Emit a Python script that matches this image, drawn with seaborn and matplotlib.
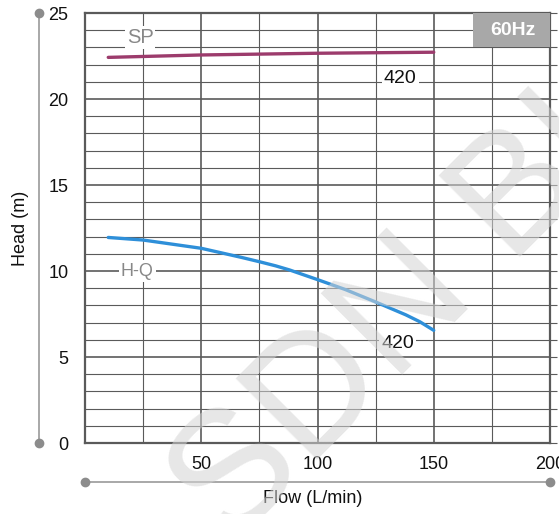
import matplotlib
matplotlib.use('Agg')
import matplotlib.pyplot as plt
from matplotlib.ticker import MultipleLocator, FuncFormatter
import seaborn as sns
import pandas as pd

# data
sp_flow = [10, 50, 100, 150]
sp_head = [22.42, 22.56, 22.66, 22.72]
hq_flow = [10, 25, 50, 67, 75, 82, 88, 100, 112, 125, 138, 144, 150]
hq_head = [11.95, 11.8, 11.32, 10.8, 10.54, 10.3, 10.06, 9.5, 8.92, 8.2, 7.45, 7.05, 6.55]
x_ticks = [0, 50, 100, 150, 200]
y_ticks = [0, 5, 10, 15, 20, 25]

sns.set_style('white')
plt.rcParams['font.family'] = ['Liberation Sans', 'DejaVu Sans']

grid_col = '#5a5a5a'
fig = plt.figure(figsize=(5.59, 5.14), dpi=100)
ax = fig.add_axes([85 / 559, 1 - 443 / 514, 465 / 559, 430 / 514])

df_sp = pd.DataFrame({'flow': sp_flow, 'head': sp_head})
df_hq = pd.DataFrame({'flow': hq_flow, 'head': hq_head})
sns.lineplot(data=df_sp, x='flow', y='head', ax=ax, color='#9c3b6c', lw=2.4, zorder=4)
sns.lineplot(data=df_hq, x='flow', y='head', ax=ax, color='#2e8fd9', lw=2.4, zorder=4)

ax.set_xlim(0, 200)
ax.set_ylim(0, 25)
ax.set_xticks(x_ticks)
ax.set_yticks(y_ticks)
ax.xaxis.set_minor_locator(MultipleLocator(25))
ax.yaxis.set_minor_locator(MultipleLocator(1))
ax.xaxis.set_major_formatter(FuncFormatter(lambda v, p: '' if v == 0 else f'{v:.0f}'))

ax.grid(True, which='major', color=grid_col, lw=1.2)
ax.grid(True, which='minor', color=grid_col, lw=0.8)
ax.set_axisbelow(True)
for s in ax.spines.values():
    s.set_color(grid_col)
    s.set_linewidth(1.6)

ax.tick_params(axis='both', which='both', direction='out', color=grid_col,
               labelsize=13, labelcolor='#111111')
ax.tick_params(axis='y', which='both', length=5, width=0.8, right=True, labelright=False, pad=7)
ax.tick_params(axis='x', which='both', length=3.6, width=0.8, pad=6)

ax.set_xlabel('Flow (L/min)', fontsize=13, color='#111111')
ax.set_ylabel('Head (m)', fontsize=13, color='#111111')
ax.xaxis.set_label_coords(0.49, -0.11)
ax.yaxis.set_label_coords(-0.12, 0.5)

# decorative axis guides with end dots
ax.plot([-0.099, -0.099], [0, 1], transform=ax.transAxes, clip_on=False,
        color='#a8a8a8', lw=1.4, marker='o', ms=6, mfc='#8c8c8c', mec='#8c8c8c')
ax.plot([0.0, 1.0], [-0.091, -0.091], transform=ax.transAxes, clip_on=False,
        color='#a8a8a8', lw=1.4, marker='o', ms=6, mfc='#8c8c8c', mec='#8c8c8c')

# curve labels
box = dict(facecolor='white', edgecolor='none', pad=1.5)
ax.text(23.7, 23.6, 'SP', fontsize=14.5, color='#888888', ha='center', va='center', bbox=box, zorder=5)
ax.text(22.5, 10.0, 'H-Q', fontsize=13, color='#888888', ha='center', va='center', bbox=box, zorder=5)
ax.text(135.5, 21.2, '420', fontsize=14, color='#111111', ha='center', va='center', bbox=box, zorder=5)
ax.text(134.6, 5.8, '420', fontsize=14, color='#111111', ha='center', va='center', bbox=box, zorder=5)

# frequency badge
ax.axvspan(167, 200, ymin=23 / 25, ymax=1, facecolor='#a8a8a8', edgecolor='none', zorder=5)
ax.text(184, 24.0, '60Hz', fontsize=14, fontweight='bold', color='white',
        ha='center', va='center', zorder=6)

# watermark
fig.text(230 / 559, 1 - 548 / 514, 'SDN BHD', fontsize=120, color='#d4d4d4', alpha=0.55,
         rotation=45, rotation_mode='anchor', ha='left', va='baseline', zorder=10)

fig.savefig('out.png', dpi=100)
